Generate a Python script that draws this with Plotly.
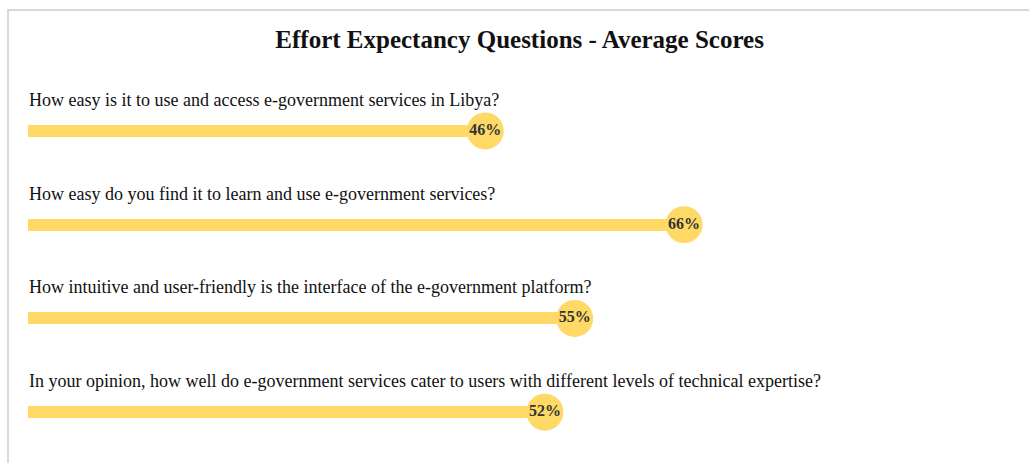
import plotly.graph_objects as go

# Survey questions and their average scores (percent)
questions = [
    "How easy is it to use and access e-government services in Libya?",
    "How easy do you find it to learn and use e-government services?",
    "How intuitive and user-friendly is the interface of the e-government platform?",
    "In your opinion, how well do e-government services cater to users with different levels of technical expertise?",
]
scores = [46, 66, 55, 52]

bar_color = "#FFD966"
serif = "Liberation Serif, Times New Roman, serif"

rows = list(range(len(questions)))

fig = go.Figure()

# Thin horizontal score bars
fig.add_trace(go.Bar(
    x=scores,
    y=rows,
    orientation="h",
    width=0.13,
    marker=dict(color=bar_color, line=dict(width=0)),
    hoverinfo="skip",
    showlegend=False,
))

# Circle markers at the end of each bar with the percentage
fig.add_trace(go.Scatter(
    x=scores,
    y=rows,
    mode="markers+text",
    marker=dict(size=37, color=bar_color, line=dict(width=0)),
    text=[f"{s}%" for s in scores],
    textposition="middle center",
    textfont=dict(family=serif, size=16, color="#333333", weight="bold"),
    hoverinfo="skip",
    showlegend=False,
    cliponaxis=False,
))

# Question text above each bar
for i, q in enumerate(questions):
    fig.add_annotation(
        x=0, y=i, xref="x", yref="y",
        text=q, showarrow=False,
        xanchor="left", yanchor="middle", yshift=31, xshift=-1,
        font=dict(family=serif, size=18, color="#111111"),
    )

# Light frame around the chart
fig.add_shape(
    type="rect", xref="paper", yref="paper",
    x0=-20 / 994, x1=1.2, y0=-0.2, y1=(463 - 10 - 4) / 375,
    line=dict(color="#d9d9d9", width=2), fillcolor="rgba(0,0,0,0)", layer="below",
)

fig.update_layout(
    width=1029,
    height=463,
    margin=dict(l=28, r=7, t=84, b=4),
    paper_bgcolor="white",
    plot_bgcolor="white",
    title=dict(
        text="<b>Effort Expectancy Questions - Average Scores</b>",
        x=0.505, xanchor="center", y=1 - 39 / 463, yanchor="middle",
        font=dict(family=serif, size=25, color="#111111"),
    ),
    xaxis=dict(range=[0, 100], visible=False, fixedrange=True),
    yaxis=dict(range=[3.5, -0.5], visible=False, fixedrange=True),
    bargap=0,
)

fig.write_html("out.html")
